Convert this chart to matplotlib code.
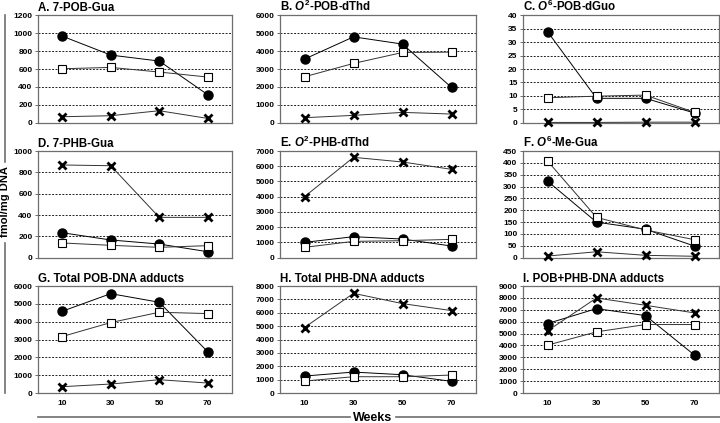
import matplotlib
matplotlib.use("Agg")
import matplotlib.pyplot as plt

plt.rcParams['font.family'] = ['Liberation Sans', 'DejaVu Sans']
plt.rcParams['font.weight'] = 'bold'
plt.rcParams['mathtext.fontset'] = 'custom'
plt.rcParams['mathtext.rm'] = 'Liberation Sans:bold'
plt.rcParams['mathtext.it'] = 'Liberation Sans:bold:italic'
plt.rcParams['mathtext.bf'] = 'Liberation Sans:bold'

# data
weeks = ['10', '30', '50', '70']
titles = ['A. 7-POB-Gua', r'B. $\mathit{O}^{2}$-POB-dThd', r'C. $\mathit{O}^{6}$-POB-dGuo',
          'D. 7-PHB-Gua', r'E. $\mathit{O}^{2}$-PHB-dThd', r'F. $\mathit{O}^{6}$-Me-Gua',
          'G. Total POB-DNA adducts', 'H. Total PHB-DNA adducts', 'I. POB+PHB-DNA adducts']
ymax = [1200, 6000, 40, 1000, 7000, 450, 6000, 8000, 9000]
ystep = [200, 1000, 5, 200, 1000, 50, 1000, 1000, 1000]

circles = [[969, 757, 690, 313],
           [3560, 4805, 4400, 1975],
           [34.0, 9.1, 9.1, 3.6],
           [234, 166, 128, 56],
           [1006, 1378, 1225, 766],
           [323, 150, 120, 49],
           [4584, 5571, 5087, 2310],
           [1267, 1565, 1366, 870],
           [5841, 7099, 6512, 3186]]
squares = [[604, 619, 567, 511],
           [2571, 3317, 3931, 3950],
           [9.3, 9.9, 10.3, 3.85],
           [138, 116, 97, 113],
           [678, 1072, 1116, 1203],
           [408, 170, 117, 76],
           [3168, 3950, 4528, 4453],
           [894, 1217, 1217, 1342],
           [4025, 5143, 5758, 5758]]
crosses = [[67, 78, 134, 48],
           [280, 410, 578, 484],
           [0.1, 0.1, 0.2, 0.2],
           [869, 862, 378, 378],
           [4003, 6585, 6279, 5797],
           [7, 25, 10, 6],
           [354, 503, 745, 559],
           [4894, 7453, 6683, 6161],
           [5226, 7993, 7378, 6736]]

W, H = 720, 423
fig = plt.figure(figsize=(W / 100, H / 100), dpi=100)

cols = [(38, 232), (280, 476), (523, 719)]
rows = [(15.5, 122.7), (151, 257.7), (286, 393)]

x = [1, 2, 3, 4]
for i in range(9):
    r, c = divmod(i, 3)
    l, rr = cols[c]
    t, b = rows[r]
    ax = fig.add_axes([l / W, 1 - b / H, (rr - l) / W, (b - t) / H])
    ax.set_xlim(0.5, 4.5)
    ax.set_ylim(0, ymax[i])
    ticks = [k * ystep[i] for k in range(int(round(ymax[i] / ystep[i])) + 1)]
    ax.set_yticks(ticks)
    ax.set_yticklabels([str(v) for v in ticks], fontsize=6, fontweight='bold')
    for v in ticks[1:-1]:
        ax.axhline(v, color='#222222', lw=0.7, ls=(0, (2, 1.5)), zorder=1)
    ax.tick_params(axis='y', length=2, width=0.6, pad=2, color='#555555')
    if r == 2:
        ax.set_xticks(x)
        ax.set_xticklabels(weeks, fontsize=6, fontweight='bold')
        ax.tick_params(axis='x', length=0, pad=5)
    else:
        ax.set_xticks([])
    for s in ax.spines.values():
        s.set_color('#6e6e6e')
        s.set_linewidth(0.9)
    ax.plot(x, circles[i], '-o', color='black', lw=0.7, ms=6.5, mfc='black', mec='black', zorder=3, clip_on=False)
    ax.plot(x, squares[i], '-s', color='#333333', lw=0.7, ms=6, mfc='white', mec='black', mew=0.8, zorder=4, clip_on=False)
    ax.plot(x, crosses[i], '-x', color='#333333', lw=0.7, ms=6, mec='black', mew=2, zorder=5, clip_on=False)
    ax.set_title(titles[i], loc='left', fontsize=8.3, fontweight='bold', pad=3)

# y axis label with split line
fig.text(5 / W, 1 - 202 / H, 'fmol/mg DNA', rotation=90, ha='center', va='center', fontsize=8, fontweight='bold')
fig.add_artist(plt.Line2D([5 / W, 5 / W], [1 - 15 / H, 1 - 162 / H], color='#6e6e6e', lw=1.2))
fig.add_artist(plt.Line2D([5 / W, 5 / W], [1 - 243 / H, 1 - 393 / H], color='#6e6e6e', lw=1.2))

# x axis label with split line
fig.text(373 / W, 1 - 417.5 / H, 'Weeks', ha='center', va='center', fontsize=9, fontweight='bold')
fig.add_artist(plt.Line2D([38 / W, 350 / W], [1 - 416.5 / H, 1 - 416.5 / H], color='#6e6e6e', lw=1.2))
fig.add_artist(plt.Line2D([396 / W, 720 / W], [1 - 416.5 / H, 1 - 416.5 / H], color='#6e6e6e', lw=1.2))

fig.savefig('out.png', dpi=100)
